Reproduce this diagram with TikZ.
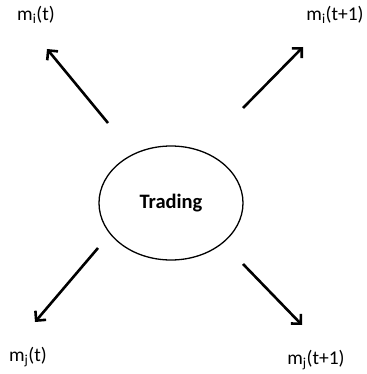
\documentclass[tikz,border=0pt]{standalone}
\usepackage{fontspec}
\setmainfont{Carlito}
\usetikzlibrary{arrows.meta,shapes.geometric}
\begin{document}
\begin{tikzpicture}[x=1pt,y=-1pt,
  lbl/.style={inner sep=0pt,font=\fontsize{19.5}{22}\selectfont},
  arr/.style={line width=2.6pt,-{Straight Barb[length=7pt,width=14pt]}}]
\useasboundingbox (0,0) rectangle (366,374);
\node[ellipse,draw,line width=1.3pt,minimum width=144pt,minimum height=114pt,
  font=\bfseries\fontsize{20.5}{23}\selectfont] (trade) at (171,203) {Trading};
\node[lbl] (mit) at (36,15) {m\textsubscript{i}(t)};
\node[lbl] (mit1) at (335,15) {m\textsubscript{i}(t+1)};
\node[lbl] (mjt) at (28,357) {m\textsubscript{j}(t)};
\node[lbl] (mjt1) at (316,360) {m\textsubscript{j}(t+1)};
\coordinate (a1) at (108,123); \coordinate (b1) at (47,49);
\coordinate (a2) at (243,108); \coordinate (b2) at (303,47);
\coordinate (a3) at (98,248); \coordinate (b3) at (35,322);
\coordinate (a4) at (243,264); \coordinate (b4) at (302,325);
\draw[arr] (a1) -- (b1);
\draw[arr] (a2) -- (b2);
\draw[arr] (a3) -- (b3);
\draw[arr] (a4) -- (b4);
\end{tikzpicture}
\end{document}
